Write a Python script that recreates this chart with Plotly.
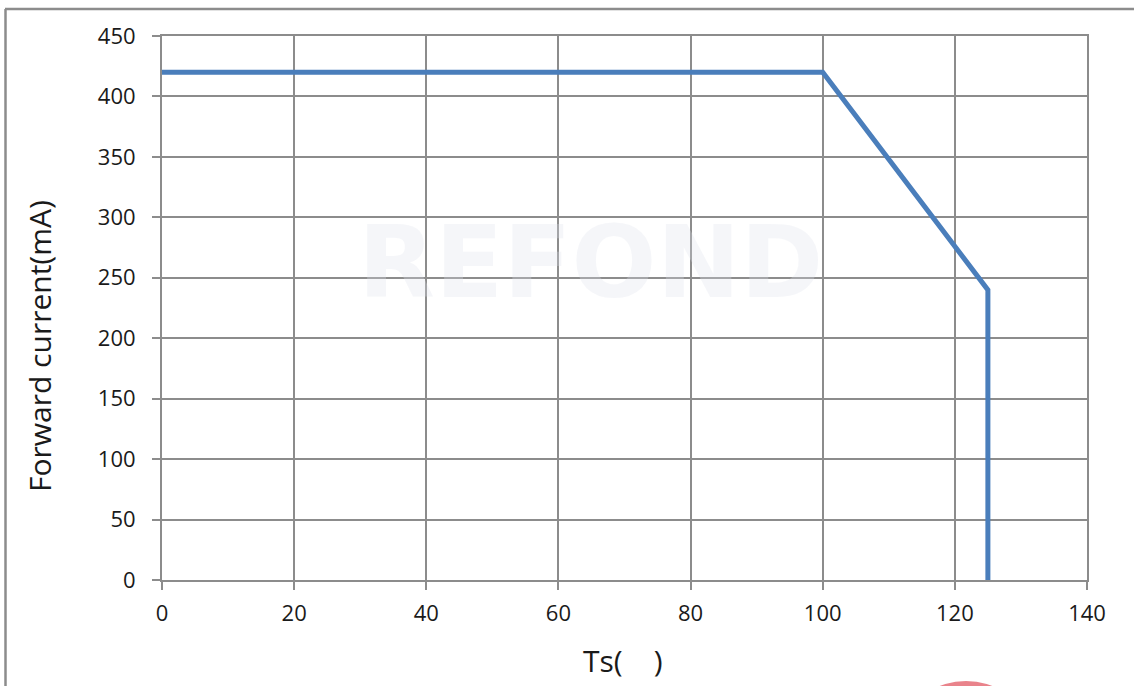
import plotly.graph_objects as go

# Data
temp_c = [0, 100, 125, 125]
current_ma = [420, 420, 240, 0]
x_ticks = [0, 20, 40, 60, 80, 100, 120, 140]
y_ticks = [0, 50, 100, 150, 200, 250, 300, 350, 400, 450]

W, H = 1134, 686
L, R, T, B = 162, 1087, 36, 580


def px(x):
    return (x - L) / (R - L)


def py(y):
    return (B - y) / (B - T)


fig = go.Figure()
fig.add_trace(go.Scatter(
    x=temp_c, y=current_ma, mode="lines",
    line=dict(color="#4A7EBB", width=5),
    hoverinfo="skip", showlegend=False,
))

grid = "#8c8c8c"
axis_common = dict(
    showgrid=True, gridcolor=grid, gridwidth=2,
    showline=True, linecolor=grid, linewidth=2,
    ticks="outside", ticklen=8, tickcolor=grid, tickwidth=2,
    zeroline=False, mirror=True,
    tickfont=dict(family="Open Sans", size=22, color="#1a1a1a"),
)
fig.update_xaxes(range=[0, 140], tickvals=x_ticks, ticklabelstandoff=5, **axis_common)
fig.update_yaxes(range=[0, 450], tickvals=y_ticks, ticklabelstandoff=12, **axis_common)

# Watermark
fig.add_annotation(
    text="<b>REFOND</b>", xref="paper", yref="paper",
    x=px(590), y=py(262), xanchor="center", yanchor="middle", showarrow=False,
    font=dict(family="DejaVu Sans", size=100, color="rgba(222,224,236,0.3)"),
)

# Axis titles
fig.add_annotation(
    text="Forward current(mA)", xref="paper", yref="paper",
    x=px(39), y=py(346), xanchor="center", yanchor="middle",
    showarrow=False, textangle=-90,
    font=dict(family="Open Sans", size=30, color="#1a1a1a"),
)
fig.add_annotation(
    text="Ts(&nbsp;&nbsp;&nbsp;&nbsp;)", xref="paper", yref="paper",
    x=px(623), y=py(660), xanchor="center", yanchor="middle", showarrow=False,
    font=dict(family="Open Sans", size=30, color="#1a1a1a"),
)

# Outer frame lines
fig.add_shape(type="line", xref="paper", yref="paper",
              x0=px(5), x1=px(1134), y0=py(9), y1=py(9),
              line=dict(color="#8c8c8c", width=2.5))
fig.add_shape(type="line", xref="paper", yref="paper",
              x0=px(5.5), x1=px(5.5), y0=py(9), y1=py(686),
              line=dict(color="#8c8c8c", width=2.5))

# Partial red logo at bottom edge
fig.add_shape(type="circle", xref="paper", yref="paper",
              x0=px(912), x1=px(1020), y0=py(681), y1=py(760),
              line=dict(width=0), fillcolor="rgba(225,90,100,0.75)", layer="above")

fig.update_layout(
    width=W, height=H,
    margin=dict(l=L, r=W - R, t=T, b=H - B),
    paper_bgcolor="white", plot_bgcolor="white",
)

fig.write_html(
    "out.html",
    config={"displayModeBar": False, "staticPlot": True},
    post_script="document.body.style.margin='0';document.body.style.overflow='hidden';",
)
